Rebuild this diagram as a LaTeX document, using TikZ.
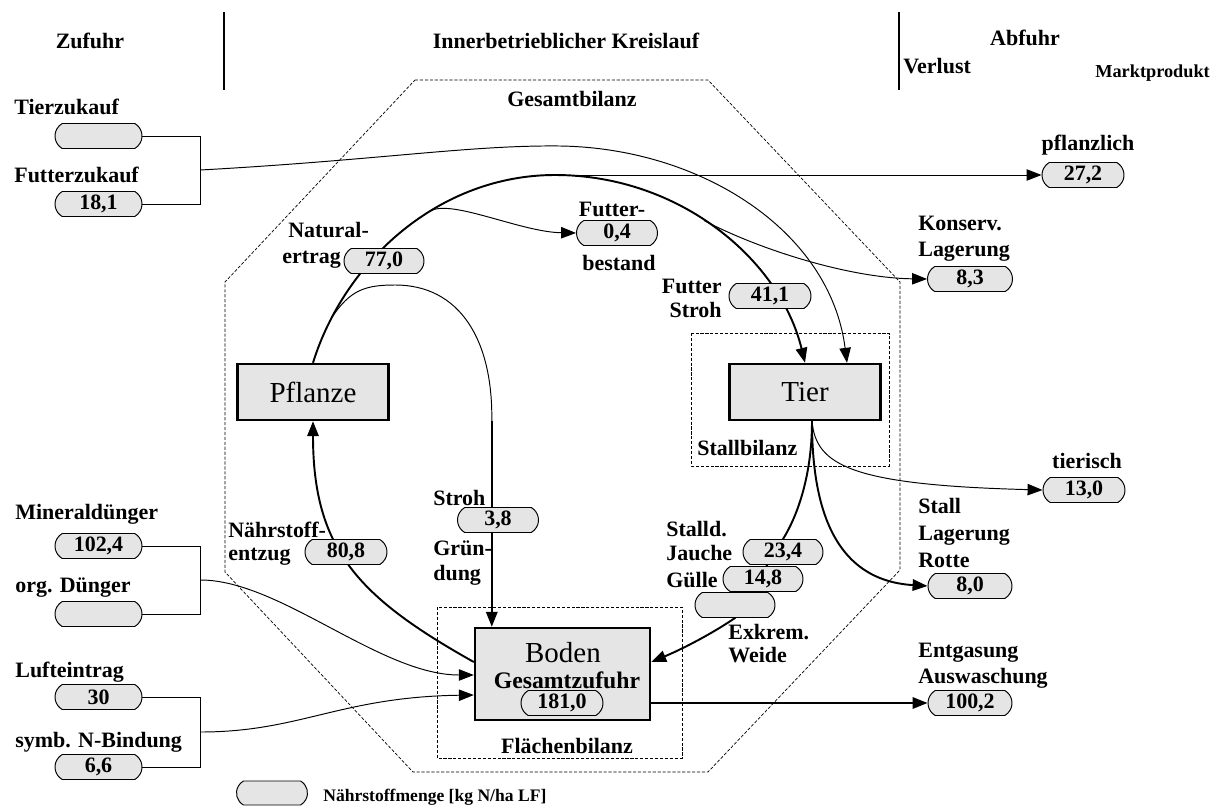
\documentclass[tikz,border=0pt]{standalone}
\usepackage{fontspec}
\setmainfont{Liberation Serif}
\usetikzlibrary{arrows.meta,calc,shapes.misc,backgrounds}

\begin{document}
\begin{tikzpicture}[x=0.02cm,y=-0.02cm,
  lbl/.style={font=\bfseries\fontsize{12.5}{14}\selectfont, inner sep=0pt},
  pill/.style={rounded rectangle, rounded rectangle arc length=120, draw, line width=0.55pt,
    fill=gray!20, minimum width=1.64cm, minimum height=0.5cm, inner sep=0pt,
    font=\bfseries\fontsize{12.5}{14}\selectfont},
  box/.style={draw, line width=1.4pt, fill=gray!20, minimum width=3.02cm, minimum height=1.12cm,
    font=\fontsize{16.5}{18}\selectfont},
  bilanz/.style={dash pattern=on 1.8pt off 1pt, line width=0.4pt},
  flow/.style={line width=0.55pt},
  main/.style={line width=1.1pt},
  >={Triangle[length=8.5pt,width=6.5pt]}]
  \useasboundingbox (0,0) rectangle (1221,808);

  \draw[line width=0.85pt] (224,12) -- (224,90);
  \draw[line width=0.85pt] (899,12) -- (899,90);
  \node[lbl, anchor=base] (zufuhr) at (90,49) {Zufuhr};
  \node[lbl, anchor=base] (kreislauf) at (566,49) {Innerbetrieblicher Kreislauf};
  \node[lbl, anchor=base] (abfuhr) at (1025,45) {Abfuhr};
  \node[lbl, anchor=base west] (verlust) at (903,73) {Verlust};
  \node[lbl, anchor=base west, font=\bfseries\fontsize{10.4}{12}\selectfont] (markt) at (1095,77) {Marktprodukt};

  \draw[bilanz] (415,80) -- (708,80) -- (900,282) -- (900,570) -- (708,772) -- (413,772)
    -- (225,572) -- (225,282) -- cycle;
  \node[lbl, anchor=base] (gesamt) at (572,106) {Gesamtbilanz};
  \draw[bilanz] (691,333) rectangle (889,466);
  \node[lbl, anchor=base west] (stallbil) at (697,455) {Stallbilanz};
  \draw[bilanz] (437,607) rectangle (682,758);
  \node[lbl, anchor=base] (flaeche) at (567,753) {Flächenbilanz};

  \node[box] (pflanze) at (313,392) {Pflanze};
  \node[box] (tier) at (805,392) {Tier};
  \node[box, minimum width=3.5cm, minimum height=1.84cm] (boden) at (562.5,674) {};
  \node[anchor=base, inner sep=0pt, font=\fontsize{16.5}{18}\selectfont] (bodentxt) at (563,662) {Boden};
  \node[lbl, anchor=base, font=\bfseries\fontsize{13.5}{14}\selectfont] (gesamtzu) at (567,688) {Gesamtzufuhr};
  \node[pill] (n1810) at (562,703) {181,0};

  \node[lbl, anchor=base west] (tierzutxt) at (14,114) {Tierzukauf};
  \node[pill, minimum width=1.74cm] (tierzu) at (98.5,136) {};
  \node[lbl, anchor=base west] (futterzutxt) at (14,182) {Futterzukauf};
  \node[pill, minimum width=1.74cm] (futterzu) at (98.5,204) {18,1};
  \node[lbl, anchor=base west] (mineraltxt) at (15,519) {Mineraldünger};
  \node[pill, minimum width=1.74cm] (mineral) at (98.5,546) {102,4};
  \node[lbl, anchor=base west] (orgtxt) at (15,592) {org. Dünger};
  \node[pill, minimum width=1.74cm] (orgduen) at (98.5,614) {};
  \node[lbl, anchor=base west] (lufttxt) at (15,677) {Lufteintrag};
  \node[pill, minimum width=1.74cm] (luft) at (98.5,697) {30};
  \node[lbl, anchor=base west] (nbindtxt) at (15,747) {symb. N-Bindung};
  \node[pill, minimum width=1.74cm] (nbind) at (98.5,767) {6,6};

  \node[lbl, anchor=base west] (naturtxt) at (288,237) {Natural-};
  \node[lbl, anchor=base west] (ertragtxt) at (282,263) {ertrag};
  \node[pill, minimum width=1.6cm] (n770) at (384,261) {77,0};
  \node[lbl, anchor=base] (futtertxt) at (612,216) {Futter-};
  \node[pill, minimum width=1.62cm] (n04) at (617,233) {0,4};
  \node[lbl, anchor=base] (bestandtxt) at (619,270) {bestand};
  \node[lbl, anchor=base east] (futter2txt) at (722,293) {Futter};
  \node[lbl, anchor=base east] (strohtxt) at (722,317) {Stroh};
  \node[pill] (n411) at (770,296) {41,1};
  \node[lbl, anchor=base west] (nentztxt) at (228,537) {Nährstoff-};
  \node[lbl, anchor=base west] (entzugtxt) at (228,560) {entzug};
  \node[pill] (n808) at (346,552) {80,8};
  \node[lbl, anchor=base west] (stroh2txt) at (433,505) {Stroh};
  \node[pill, minimum width=1.62cm] (n38) at (498,520) {3,8};
  \node[lbl, anchor=base west] (gruentxt) at (433,555) {Grün-};
  \node[lbl, anchor=base west] (dungtxt) at (433,580) {dung};
  \node[lbl, anchor=base west] (stalldtxt) at (666,536) {Stalld.};
  \node[lbl, anchor=base west] (jauchetxt) at (666,560) {Jauche};
  \node[lbl, anchor=base west] (guelletxt) at (666,587) {Gülle};
  \node[pill, minimum width=1.6cm] (n234) at (783,552) {23,4};
  \node[pill, minimum width=1.6cm] (n148) at (763,579) {14,8};
  \node[pill, minimum width=1.6cm] (exkrem) at (735,605) {};
  \node[lbl, anchor=base west] (exkremtxt) at (728,639) {Exkrem.};
  \node[lbl, anchor=base west] (weidetxt) at (728,662) {Weide};

  \node[lbl, anchor=base] (pflzltxt) at (1088,150) {pflanzlich};
  \node[pill] (n272) at (1083,175) {27,2};
  \node[lbl, anchor=base west] (konstxt) at (918,230) {Konserv.};
  \node[lbl, anchor=base west] (lager1txt) at (918,256) {Lagerung};
  \node[pill, minimum width=1.7cm] (n83) at (970,279) {8,3};
  \node[lbl, anchor=base] (tiertxt) at (1087,468) {tierisch};
  \node[pill] (n130) at (1084,490) {13,0};
  \node[lbl, anchor=base west] (stalltxt) at (918,513) {Stall};
  \node[lbl, anchor=base west] (lager2txt) at (918,540) {Lagerung};
  \node[lbl, anchor=base west] (rottetxt) at (918,567) {Rotte};
  \node[pill, minimum width=1.68cm] (n80) at (970,586) {8,0};
  \node[lbl, anchor=base west] (entgtxt) at (918,657) {Entgasung};
  \node[lbl, anchor=base west] (auswtxt) at (918,683) {Auswaschung};
  \node[pill, minimum width=1.68cm] (n1002) at (970,703) {100,2};

  \node[pill, minimum width=1.42cm, minimum height=0.48cm] (legende) at (272,793) {};
  \node[lbl, anchor=base west, font=\bfseries\fontsize{10}{12}\selectfont] (legtxt) at (323,801) {Nährstoffmenge [kg N/ha LF]};

  \begin{scope}[on background layer]
    \coordinate (scheitel) at (555,175);
    \coordinate (tierin) at ($(tier.north)+(42,0)$);
    \coordinate (tierab) at ($(tier.south)+(7,0)$);
    \coordinate (strohin) at ($(boden.north west)+(18,0)$);
    \coordinate (strohknick) at (strohin |- pflanze.south);
    \coordinate (bodenli) at ($(boden.west)+(0,-12)$);
    \coordinate (bodenre) at ($(boden.east)+(0,-12)$);
    \coordinate (bodenin1) at ($(boden.west)+(0,1)$);
    \coordinate (bodenin2) at ($(boden.west)+(0,21)$);
    \coordinate (zukauf) at ($(tierzu.east)!0.5!(futterzu.east)+(58,0)$);
    \coordinate (duenger) at ($(mineral.east)!0.5!(orgduen.east)+(58,0)$);
    \coordinate (luftein) at ($(luft.east)!0.5!(nbind.east)+(58,0)$);

    \draw[main, ->] (pflanze.north) .. controls (345,260) and (440,175) .. (scheitel)
      coordinate[pos=0.15] (strohab) coordinate[pos=0.6] (futterab)
      .. controls (680,175) and (780,260) .. (tier.north) coordinate[pos=0.45] (konsab);
    \draw[flow, ->] (scheitel) -- (n272.west);
    \draw[flow, ->] (futterab) .. controls (450,198) and (520,232) .. (n04.west);
    \draw[flow, ->] (konsab) .. controls (760,250) and (850,278) .. (n83.west);
    \draw[flow] (strohab) .. controls (350,290) and (365,285) .. (395,285)
      .. controls (460,285) and (493,340) .. (strohknick);
    \draw[main, ->] (strohknick) -- (strohin);

    \draw[flow] (tierzu.east) -- ++(58,0) |- (futterzu.east);
    \draw[flow, ->] (zukauf) .. controls (380,160) and (470,145) .. (560,146)
      .. controls (700,148) and (830,230) .. (tierin);

    \draw[main, ->] (tierab) .. controls (812,500) and (830,580) .. (n80.west);
    \draw[flow, ->] (tierab) .. controls (816,465) and (850,485) .. (n130.west);
    \draw[main] (tierab) .. controls (812,480) and (795,520) .. (n234.north);
    \draw[main, ->] (n234.north) -- (exkrem.south) .. controls (710,635) and (680,650) .. (bodenre);

    \draw[main, ->] (bodenli) .. controls (358,597) and (313,549) .. (pflanze.south);
    \draw[main, ->] (boden.east |- n1002.west) -- (n1002.west);

    \draw[flow] (mineral.east) -- ++(58,0) |- (orgduen.east);
    \draw[flow, ->] (duenger) .. controls (280,580) and (380,675) .. (bodenin1);
    \draw[flow] (luft.east) -- ++(58,0) |- (nbind.east);
    \draw[flow, ->] (luftein) .. controls (300,732) and (340,697) .. (bodenin2);
  \end{scope}
\end{tikzpicture}
\end{document}
